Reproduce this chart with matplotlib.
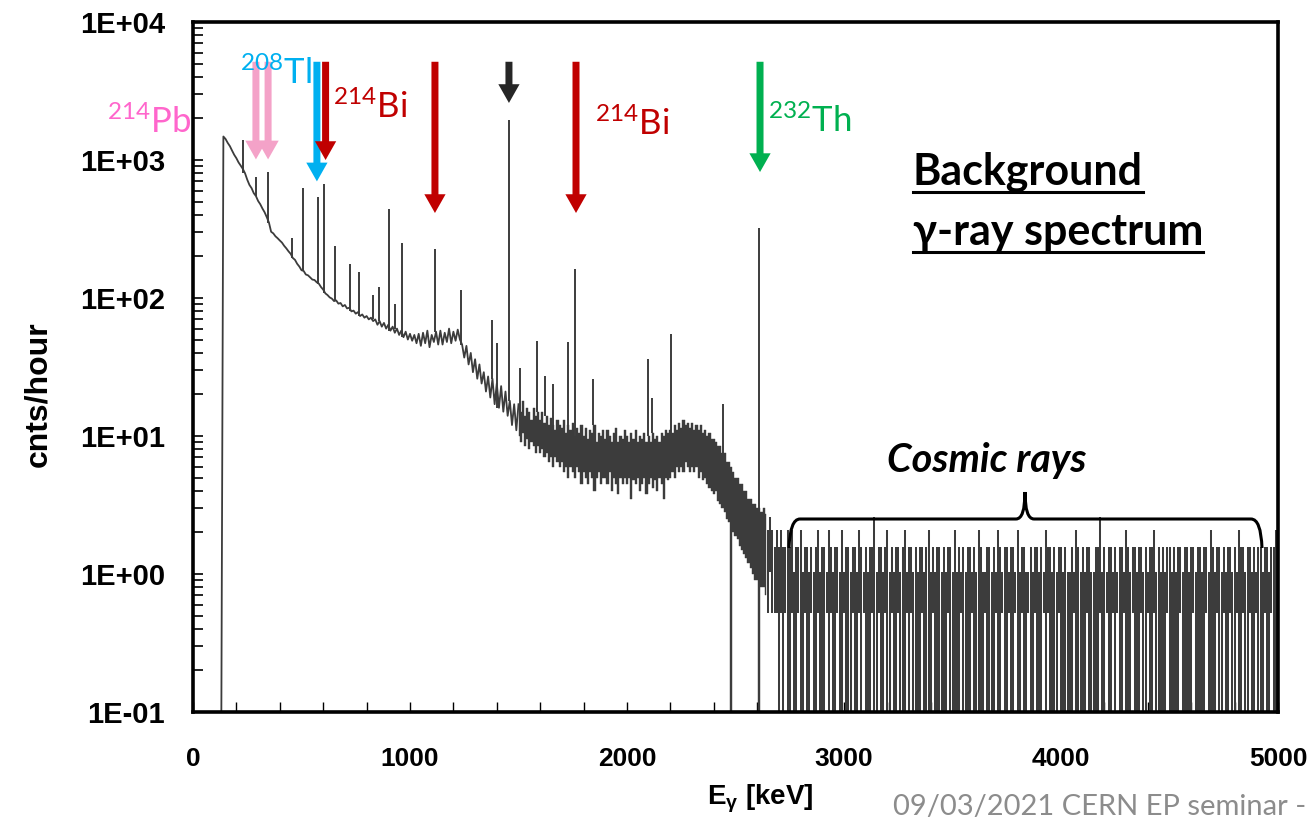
import numpy as np
import matplotlib
matplotlib.use('Agg')
import matplotlib.pyplot as plt
from matplotlib.path import Path
from matplotlib.patches import PathPatch
from matplotlib.lines import Line2D
from matplotlib.ticker import MultipleLocator, LogLocator, FuncFormatter, NullFormatter

plt.rcParams['font.family'] = ['Liberation Sans', 'DejaVu Sans']
plt.rcParams['font.weight'] = 'bold'
plt.rcParams['axes.labelweight'] = 'bold'
plt.rcParams['path.simplify'] = False
plt.rcParams['mathtext.fontset'] = 'custom'
plt.rcParams['mathtext.rm'] = 'Liberation Sans'
plt.rcParams['mathtext.bf'] = 'Liberation Sans:bold'
plt.rcParams['mathtext.it'] = 'Liberation Sans:italic'

# ---- spectrum (cnts/hour) ----
# 130 - 1490 keV, 10 keV bins, drawn as a line
low_start, low_step = 130, 10
low_cph = [0,
    1480, 1420, 1330, 1260, 1170, 1090, 1030, 960, 910, 860,
    800, 720, 660, 625, 575, 548, 505, 478, 445, 418,
    385, 352, 302, 294, 280, 271, 261, 252, 239, 229,
    218, 209, 195, 189, 177, 169, 159, 157, 148, 146,
    141, 136, 135, 130, 127, 120, 115, 108, 105, 101,
    99, 95, 96, 91, 92, 87, 89, 84, 85, 80,
    81, 77, 79, 74, 76, 72, 74, 70, 72, 68,
    70, 64, 68, 62, 66, 60, 64, 58, 62, 56,
    60, 54, 58, 52, 57, 50, 55, 49, 54, 47,
    55, 45, 56, 47, 58, 44, 54, 48, 57, 46,
    58, 46, 56, 48, 60, 47, 57, 49, 59, 50,
    46, 37, 45, 33, 40, 29, 36, 26, 33, 24,
    29, 21, 27, 19, 26, 17, 24, 16, 23, 15,
    21, 14, 18, 12, 17, 11]

# 1500 - 2640 keV, 10 keV bins: upper / lower edge of the noise band
mid_start, mid_step = 1500, 10
mid_hi = [
    17, 15, 18, 14, 16, 15, 13, 16, 14, 15,
    13, 15, 12.5, 14, 12, 13.5, 12, 11, 13, 12,
    11.5, 13, 10.5, 12, 11, 12.5, 10, 11.5, 10.5, 12,
    10, 11.5, 9.5, 11, 10.5, 12, 9, 10.5, 10, 11,
    9.5, 11, 10, 9, 10.5, 11.5, 9, 10, 9.5, 11,
    10, 9, 10.5, 9.5, 11, 9, 10, 9.5, 10.5, 9,
    10, 9, 10.5, 9.5, 10, 9, 10.5, 10, 11, 10.5,
    11, 10.5, 12, 11, 12.5, 11.5, 13, 12, 12.5, 11.5,
    12.5, 11, 12, 11, 12, 10.5, 11, 10, 10.5, 9.5,
    9.5, 9, 8.5, 8.5, 7.5, 7.5, 6.5, 6.5, 6, 5.5,
    5, 5, 4.5, 4.5, 4, 4, 3.5, 3.5, 3.2, 3.2,
    3, 3, 2.8, 3, 2.7]
mid_lo = [
    10, 9, 10.5, 8.5, 9.5, 8, 9, 8.5, 7.5, 8.5,
    7.5, 8, 7, 7.5, 6.5, 7, 6, 7, 6.5, 6,
    6.5, 5.5, 6, 5, 6, 5.5, 5, 6, 5.5, 4.5,
    5.5, 5, 4.5, 5.5, 5, 4, 5, 5.5, 4.5, 5,
    5, 4.5, 5.5, 4, 5, 4.5, 3.8, 5, 4.5, 5,
    4.5, 5, 3.5, 4.8, 4.5, 5, 4, 4.5, 5, 3.8,
    4.5, 5, 4.2, 4.8, 4, 5, 4.5, 3.5, 5, 4.8,
    5, 5.5, 5, 6, 5.5, 6, 5.5, 6.5, 6, 5.5,
    6, 5.5, 6, 5, 5.5, 4.8, 5, 4.5, 4.2, 4,
    3.8, 4, 3.4, 3.2, 3, 2.8, 2.5, 2.4, 0, 2,
    1.9, 1.8, 1.6, 1.5, 1.4, 1.3, 1.2, 1.1, 1.0, 0.9,
    0.9, 0, 0.8, 0.8, 0.7]

# 2650 - 4990 keV, 10 keV bins: max / min raw counts per bin
# (one count = 0.52 cnts/hour)
high_start, high_step = 2650, 10
cph_per_count = 0.52
high_hi = [
    4, 5, 4, 3, 4, 3, 4, 3, 3, 4,
    3, 4, 2, 3, 3, 4, 2, 3, 3, 2,
    3, 2, 3, 4, 2, 3, 3, 2, 4, 3,
    2, 3, 3, 2, 4, 2, 3, 3, 2, 3,
    3, 2, 4, 3, 2, 3, 2, 3, 3, 5,
    2, 3, 3, 2, 3, 4, 2, 3, 2, 3,
    3, 2, 3, 4, 2, 3, 3, 2, 3, 2,
    3, 3, 2, 3, 4, 2, 3, 2, 3, 3,
    2, 3, 2, 3, 3, 2, 4, 2, 3, 2,
    3, 2, 3, 3, 2, 3, 2, 4, 3, 2,
    2, 3, 3, 2, 3, 2, 4, 3, 2, 3,
    3, 2, 3, 3, 2, 4, 2, 3, 3, 2,
    2, 3, 2, 3, 3, 2, 3, 2, 4, 3,
    3, 2, 3, 2, 3, 3, 2, 3, 2, 2,
    3, 2, 4, 3, 2, 3, 2, 3, 3, 2,
    2, 3, 3, 5, 2, 3, 2, 3, 3, 2,
    3, 2, 3, 3, 2, 4, 3, 2, 3, 3,
    2, 3, 3, 2, 3, 2, 3, 3, 4, 2,
    3, 2, 3, 2, 3, 3, 2, 3, 2, 3,
    3, 2, 3, 3, 2, 3, 3, 2, 3, 3,
    2, 3, 3, 2, 4, 3, 2, 3, 3, 2,
    3, 2, 3, 3, 2, 3, 2, 4, 3, 3,
    2, 3, 3, 2, 3, 2, 3, 3, 2, 3,
    3, 2, 3, 3, 4]
high_lo = [
    1, 2, 1, 1, 1, 0, 1, 0, 1, 0,
    0, 1, 0, 0, 1, 0, 0, 1, 0, 0,
    1, 0, 0, 1, 0, 0, 0, 1, 0, 1,
    0, 0, 1, 0, 0, 1, 0, 0, 0, 1,
    0, 0, 1, 0, 1, 0, 0, 0, 1, 0,
    0, 1, 0, 0, 1, 0, 0, 1, 0, 0,
    1, 0, 0, 0, 1, 0, 1, 0, 0, 0,
    0, 1, 0, 0, 0, 0, 1, 0, 0, 0,
    0, 0, 0, 1, 0, 0, 0, 0, 0, 1,
    0, 0, 0, 0, 1, 0, 0, 0, 0, 0,
    1, 0, 0, 0, 0, 1, 0, 0, 1, 0,
    0, 1, 0, 0, 1, 0, 0, 1, 0, 0,
    1, 0, 0, 1, 0, 0, 0, 1, 0, 1,
    0, 0, 0, 0, 1, 0, 0, 0, 0, 0,
    0, 1, 0, 0, 0, 0, 0, 1, 0, 0,
    0, 0, 0, 1, 0, 0, 1, 0, 0, 1,
    0, 1, 0, 0, 1, 0, 0, 0, 1, 0,
    0, 0, 1, 0, 0, 1, 0, 0, 1, 0,
    0, 0, 0, 0, 1, 0, 0, 0, 0, 0,
    1, 0, 0, 0, 0, 0, 1, 0, 0, 0,
    0, 0, 1, 0, 0, 0, 0, 1, 0, 0,
    1, 0, 0, 1, 0, 0, 1, 0, 0, 1,
    0, 0, 1, 0, 0, 1, 0, 0, 0, 1,
    0, 0, 1, 0, 0]

# gamma lines (keV, peak height in cnts/hour)
peak_E = [232, 290, 347, 455, 505, 577, 604, 656, 723, 765, 831, 857, 905, 931,
          963, 1116, 1235, 1376, 1403, 1458, 1505, 1584, 1622, 1658, 1727, 1760,
          1842, 2098, 2117, 2203, 2444, 2610]
peak_cph = [1400, 750, 820, 270, 630, 540, 670, 240, 175, 155, 105, 120, 440, 90,
            250, 225, 115, 69, 47, 1950, 31, 49, 27, 24, 48, 162,
            26, 36, 19, 55, 17, 320]

# arrows marking the lines: energy, tip, colour
arrow_E = [290, 346, 571, 611, 1115, 1456, 1765, 2613]
arrow_tip = [1010, 1010, 700, 1000, 413, 2590, 413, 818]
arrow_tail = 5150
arrow_col = ['#F4A2C8', '#F4A2C8', '#00B0F0', '#C00000', '#C00000', '#262626',
             '#C00000', '#00B050']

low_E = low_start + low_step * np.arange(len(low_cph))
mid_E = mid_start + mid_step * np.arange(len(mid_hi))
high_E = high_start + high_step * np.arange(len(high_hi))
high_top = np.array(high_hi) * cph_per_count
high_bot = np.array(high_lo) * cph_per_count

W, H = 1316, 824
fig = plt.figure(figsize=(W / 100, H / 100), dpi=100)
ax = fig.add_axes([193 / W, 1 - 712 / H, 1085 / W, 690 / H])
ax.set_yscale('log')
ax.set_xlim(0, 5000)
ax.set_ylim(0.1, 1e4)

grey = '#3c3c3c'
floor = 0.05  # empty bins are drawn down to just below the axis
ax.plot(np.append(low_E, mid_E[0]), np.append(np.maximum(low_cph, floor), mid_hi[0]),
        color=grey, lw=1.3, zorder=2)
ax.fill_between(mid_E, np.maximum(mid_lo, floor), mid_hi, step='mid',
                fc=grey, ec=grey, lw=0.3, zorder=2)
# one bar per 10 keV bin from its minimum to its maximum
ax.vlines(high_E, np.maximum(high_bot, floor), high_top, colors=grey,
          lw=1.45, capstyle='butt', zorder=2)

E_all = np.concatenate([low_E, mid_E, high_E])
top_all = np.concatenate([low_cph, mid_hi, high_top])
idx = np.clip(np.searchsorted(E_all, peak_E), 0, len(E_all) - 1)
base = np.maximum(top_all[idx], floor)
ax.vlines(peak_E, base, peak_cph, colors=grey, lw=1.4, zorder=2)

for e, tip, c in zip(arrow_E, arrow_tip, arrow_col):
    ax.annotate('', xy=(e, tip), xytext=(e, arrow_tail),
                arrowprops=dict(arrowstyle='simple,head_length=0.75,head_width=0.85,tail_width=0.28',
                                fc=c, ec='none', mutation_scale=18,
                                shrinkA=0, shrinkB=0), zorder=4)

ax.xaxis.set_major_locator(MultipleLocator(1000))
ax.xaxis.set_minor_locator(MultipleLocator(200))
ax.yaxis.set_major_locator(LogLocator(base=10))
ax.yaxis.set_minor_locator(LogLocator(base=10, subs=range(2, 10)))
ax.yaxis.set_minor_formatter(NullFormatter())
ax.yaxis.set_major_formatter(FuncFormatter(lambda v, p: f'{v:.0E}'))
ax.tick_params(which='both', direction='in', top=False, right=False, color='black')
ax.tick_params(axis='y', which='both', length=7, width=1.2, pad=20, labelsize=21)
ax.tick_params(axis='x', which='both', length=7, width=1.0, pad=25, labelsize=19)
for s in ax.spines.values():
    s.set_linewidth(2.6)
    s.set_zorder(6)

ax.set_xlabel(r'E$_{\mathbf{\gamma}}$ [keV]', fontsize=20, fontweight='bold')
ax.xaxis.set_label_coords(0.523, -0.103)
ax.set_ylabel('cnts/hour', fontsize=23, fontweight='bold')
ax.yaxis.set_label_coords(-0.129, 0.461)


def px(x, y):
    return x / W, 1 - y / H


lato = ['Lato', 'DejaVu Sans']
iso = [(107, 133, '214', 'Pb', '#FF66CC'),
       (240, 84, '208', 'Tl', '#00B0F0'),
       (333, 118, '214', 'Bi', '#C00000'),
       (595, 135, '214', 'Bi', '#C00000'),
       (768, 132, '232', 'Th', '#00B050')]
for x, y, a, sym, c in iso:
    fig.text(*px(x, y), r'$\mathregular{^{%s}%s}$' % (a, sym), color=c,
             fontsize=25, family=lato, fontweight='normal', va='baseline')

t1 = fig.text(*px(913, 185), 'Background', fontsize=31, family=lato,
              fontweight='bold', va='baseline')
t2 = fig.text(*px(913, 245), 'γ-ray spectrum', fontsize=31, family=lato,
              fontweight='bold', va='baseline')
fig.text(*px(987, 472), 'Cosmic rays', fontsize=28.5, family=lato,
         fontweight='bold', style='italic', ha='center', va='baseline')
fig.text(*px(893, 815), '09/03/2021 CERN EP seminar -', fontsize=21,
         family=lato, fontweight='normal', color='#8C8C8C', va='baseline')

fig.canvas.draw()
r = fig.canvas.get_renderer()
for t, yline in [(t1, 192), (t2, 252)]:
    bb = t.get_window_extent(r)
    fig.add_artist(Line2D([bb.x0 / W, bb.x1 / W], [1 - yline / H] * 2,
                          color='black', lw=2.2, transform=fig.transFigure))

# curly brace over the cosmic-ray region
bp = [(789, 548), (790, 519), (800, 519), (1016, 519), (1025, 519), (1025, 492),
      (1025, 519), (1034, 519), (1251, 519), (1261, 519), (1262, 548)]
codes = [Path.MOVETO, Path.CURVE3, Path.CURVE3, Path.LINETO, Path.CURVE3, Path.CURVE3,
         Path.CURVE3, Path.CURVE3, Path.LINETO, Path.CURVE3, Path.CURVE3]
brace = Path([px(x, y) for x, y in bp], codes)
fig.add_artist(PathPatch(brace, fill=False, lw=2.2, ec='black',
                         transform=fig.transFigure, zorder=5))

fig.savefig('out.png', dpi=100)
